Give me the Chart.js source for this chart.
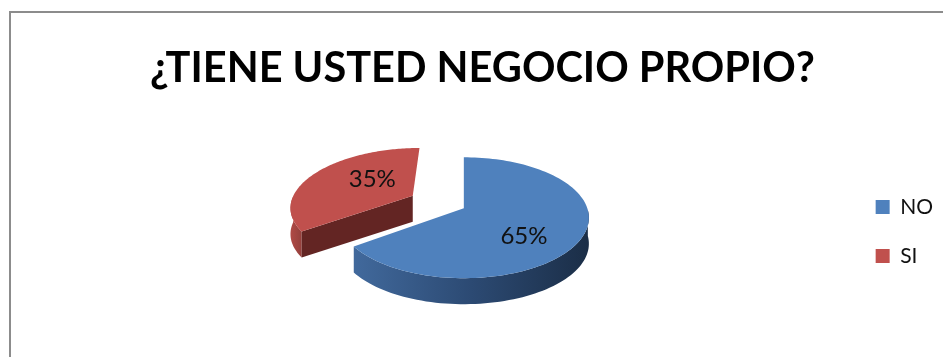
<!DOCTYPE html>
<html>
<head>
<meta charset="utf-8">
<title>Negocio propio</title>
<script src="https://cdn.jsdelivr.net/npm/chart.js@4/dist/chart.umd.min.js"></script>
<style>
    html, body { margin: 0; padding: 0; background: #fff; }
    #frame {
        position: absolute; left: 9px; top: 11px; right: 0; bottom: 0;
        border-left: 2px solid #8c8c8c; border-top: 2px solid #8c8c8c;
    }
    #wrap { position: absolute; left: 0; top: 0; width: 943px; height: 357px; }
</style>
</head>
<body>
<div id="frame"></div>
<div id="wrap"><canvas id="pie"></canvas></div>
<script>
const categories = ['NO', 'SI'];
const percentages = [65, 35];
const chartTitle = '¿TIENE USTED NEGOCIO PROPIO?';

const topColors = ['#4f81bd', '#c0504d'];
const cutColors = ['#1d3049', '#632523'];

// how far each slice is pulled out, in radii
const explode = [0, 0.48];
// where the percentage sits: distance from the apex in radii, turn from the slice's middle in degrees
const labelAt = [0.63, 0.49];
const labelTurn = [17, 13];

// tilted disc projection, all in radii
const TILT = -0.157;
const SQUASH = 0.483;
const APEX_LIFT = -0.072;
const WIDTH = 0.988;
const DEPTH = 0.208;

const TITLE_SHIFT = -29;
const LEGEND_SHIFT = 59;

function project(arc, u, v) {
    const w = 1 + TILT * v;
    return {
        x: arc.x + arc.outerRadius * WIDTH * u / w,
        y: arc.y + arc.outerRadius * (SQUASH * v + APEX_LIFT) / w
    };
}

function slicePoint(arc, i, angle, frac) {
    const mid = (arc.startAngle + arc.endAngle) / 2;
    return project(arc,
        frac * Math.cos(angle) + explode[i] * Math.cos(mid),
        frac * Math.sin(angle) + explode[i] * Math.sin(mid));
}

function rimPoints(arc, i) {
    const pts = [];
    const steps = 120;
    for (let s = 0; s <= steps; s++) {
        const a = arc.startAngle + (arc.endAngle - arc.startAngle) * s / steps;
        pts.push(slicePoint(arc, i, a, 1));
    }
    return pts;
}

// only the part of the rim that faces the viewer gets a wall
function frontRim(arc, i) {
    const pts = [];
    const steps = 120;
    for (let s = 0; s <= steps; s++) {
        const a = arc.startAngle + (arc.endAngle - arc.startAngle) * s / steps;
        if (Math.sin(a) >= 0) pts.push(slicePoint(arc, i, a, 1));
    }
    return pts;
}

function fillPath(ctx, pts, fill) {
    ctx.beginPath();
    pts.forEach((p, n) => n ? ctx.lineTo(p.x, p.y) : ctx.moveTo(p.x, p.y));
    ctx.closePath();
    ctx.fillStyle = fill;
    ctx.fill();
}

function wallFill(ctx, i, pts) {
    const xs = pts.map(p => p.x);
    const g = ctx.createLinearGradient(Math.min(...xs), 0, Math.max(...xs), 0);
    if (i === 0) {
        g.addColorStop(0, '#41699c');
        g.addColorStop(0.5, '#2c4a73');
        g.addColorStop(1, '#1b2e47');
    } else {
        g.addColorStop(0, '#b04a46');
        g.addColorStop(1, '#94403c');
    }
    return g;
}

// draws the slices as a thick tilted disc, farthest slice first
const tiltedPie = {
    id: 'tiltedPie',
    afterLayout(chart) {
        chart.legend.top += LEGEND_SHIFT;
        chart.legend.bottom += LEGEND_SHIFT;
        chart.titleBlock.left += TITLE_SHIFT;
        chart.titleBlock.right += TITLE_SHIFT;
    },
    beforeDatasetsDraw(chart) {
        const ctx = chart.ctx;
        const arcs = chart.getDatasetMeta(0).data;
        const order = [1, 0];
        order.forEach(i => {
            const arc = arcs[i];
            const depth = arc.outerRadius * DEPTH;
            const rim = rimPoints(arc, i);
            const front = frontRim(arc, i);
            const lower = pts => pts.map(p => ({ x: p.x, y: p.y + depth })).reverse();

            // outer wall
            fillPath(ctx, front.concat(lower(front)), wallFill(ctx, i, front));

            // cut wall along the leading edge
            const apex = slicePoint(arc, i, 0, 0);
            const edge = [apex, rim[0]];
            fillPath(ctx, edge.concat(lower(edge)), cutColors[i]);

            // top face
            fillPath(ctx, [apex].concat(rim), topColors[i]);
        });

        ctx.save();
        ctx.font = '24px Lato';
        ctx.fillStyle = '#111';
        ctx.textAlign = 'center';
        ctx.textBaseline = 'middle';
        arcs.forEach((arc, i) => {
            const mid = (arc.startAngle + arc.endAngle) / 2;
            const p = slicePoint(arc, i, mid + labelTurn[i] * Math.PI / 180, labelAt[i]);
            ctx.fillText(percentages[i] + '%', p.x, p.y);
        });
        ctx.restore();
        return false;
    }
};

new Chart(document.getElementById('pie'), {
    type: 'pie',
    data: {
        labels: categories,
        datasets: [{
            data: percentages,
            backgroundColor: topColors,
            borderWidth: 0
        }]
    },
    options: {
        responsive: true,
        maintainAspectRatio: false,
        animation: false,
        radius: 125,
        layout: { padding: { left: 80, bottom: 12, right: 0 } },
        plugins: {
            tooltip: { enabled: false },
            title: {
                display: true,
                text: chartTitle,
                color: '#000',
                font: { family: 'Lato', size: 41.5, weight: 'bold', lineHeight: 1 },
                padding: { top: 48, bottom: 0 }
            },
            legend: {
                position: 'right',
                labels: {
                    color: '#111',
                    font: { family: 'Lato', size: 21 },
                    boxWidth: 14,
                    boxHeight: 14,
                    padding: 28
                }
            }
        }
    },
    plugins: [tiltedPie]
});
</script>
</body>
</html>
